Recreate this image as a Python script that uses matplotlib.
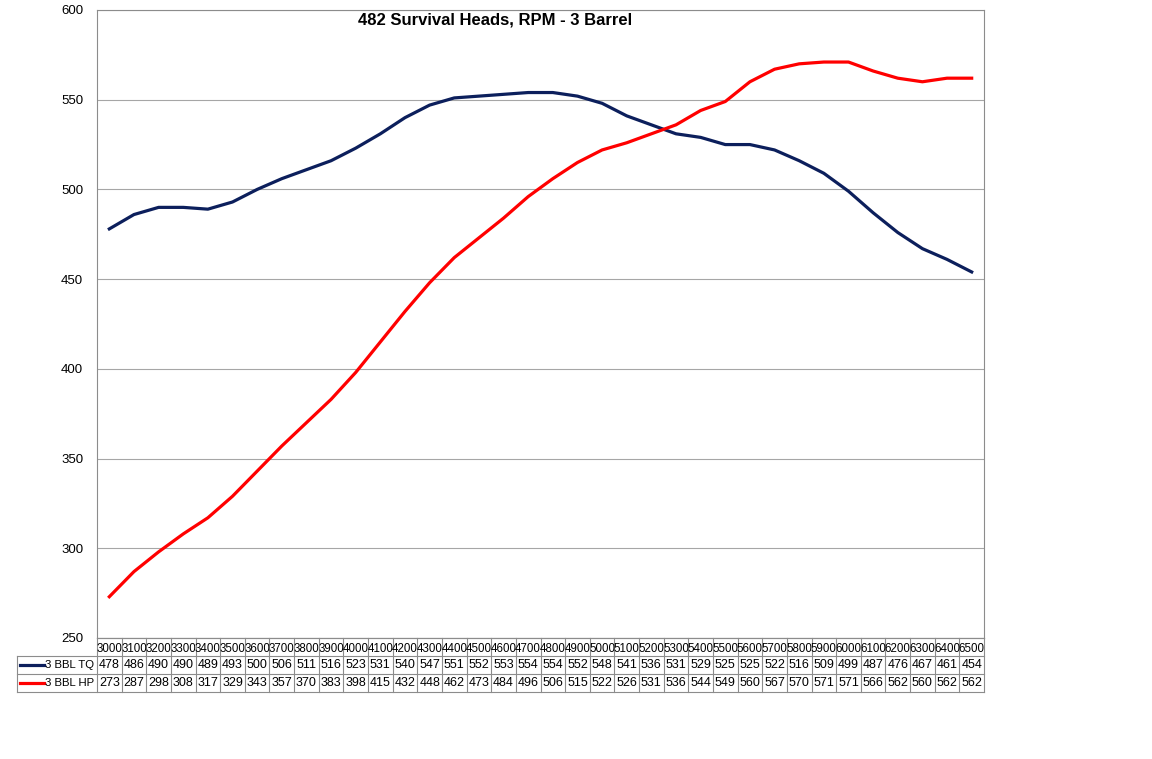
import numpy as np
import matplotlib.pyplot as plt
import matplotlib.transforms as mtransforms
from matplotlib.lines import Line2D

plt.rcParams['font.family'] = ['Liberation Sans', 'DejaVu Sans']

rpm = [3000, 3100, 3200, 3300, 3400, 3500, 3600, 3700, 3800, 3900,
       4000, 4100, 4200, 4300, 4400, 4500, 4600, 4700, 4800, 4900,
       5000, 5100, 5200, 5300, 5400, 5500, 5600, 5700, 5800, 5900,
       6000, 6100, 6200, 6300, 6400, 6500]
tq = [478, 486, 490, 490, 489, 493, 500, 506, 511, 516,
      523, 531, 540, 547, 551, 552, 553, 554, 554, 552,
      548, 541, 536, 531, 529, 525, 525, 522, 516, 509,
      499, 487, 476, 467, 461, 454]
hp = [273, 287, 298, 308, 317, 329, 343, 357, 370, 383,
      398, 415, 432, 448, 462, 473, 484, 496, 506, 515,
      522, 526, 531, 536, 544, 549, 560, 567, 570, 571,
      571, 566, 562, 560, 562, 562]
series_names = ['3 BBL TQ', '3 BBL HP']
series_colors = ['#0c1f5c', '#ff0000']

W, H = 1152, 759
fig = plt.figure(figsize=(W / 100, H / 100), dpi=100)
ax = fig.add_axes([97 / W, 1 - 638 / H, (984 - 97) / W, (638 - 10) / H])

n = len(rpm)
x = np.arange(n) + 0.5
for vals, col in zip([tq, hp], series_colors):
    ax.plot(x, vals, color=col, lw=2.3, solid_joinstyle='round')

ax.set_xlim(0, n)
ax.set_ylim(250, 600)
ax.set_yticks(np.arange(250, 601, 50))
ax.set_xticks([])
ax.tick_params(axis='y', length=0, pad=10, labelsize=9.5)
ax.grid(axis='y', color='#a6a6a6', lw=0.8)
ax.set_axisbelow(True)
for s in ax.spines.values():
    s.set_color('#8c8c8c')
    s.set_linewidth(0.8)

fig.text(495 / W, 1 - 20 / H, '482 Survival Heads, RPM - 3 Barrel',
         ha='center', va='center', fontsize=12, fontweight='bold')

# data table below the plot
grid_col = '#8c8c8c'
rows_px = [638, 656, 674, 692]
ytop = 1 - np.array(rows_px) / H
trans = mtransforms.blended_transform_factory(ax.transData, fig.transFigure)

ax.add_line(Line2D([0, n], [ytop[0], ytop[0]], transform=trans, color=grid_col, lw=0.8, clip_on=False))
for yy in ytop[1:]:
    fig.add_artist(Line2D([17 / W, 984 / W], [yy, yy], color=grid_col, lw=0.8))
for k in range(n + 1):
    ax.add_line(Line2D([k, k], [ytop[0], ytop[3]], transform=trans, color=grid_col, lw=0.8, clip_on=False))
fig.add_artist(Line2D([17 / W, 17 / W], [ytop[1], ytop[3]], color=grid_col, lw=0.8))

fs = 8.3
for i in range(n):
    ax.text(x[i], (ytop[0] + ytop[1]) / 2 - 0.002, str(rpm[i]), transform=trans,
            ha='center', va='center', fontsize=fs, clip_on=False)
    for r, vals in enumerate([tq, hp]):
        ax.text(x[i], (ytop[r + 1] + ytop[r + 2]) / 2, str(vals[i]), transform=trans,
                ha='center', va='center', fontsize=9, clip_on=False)

for r, (name, col) in enumerate(zip(series_names, series_colors)):
    yc = (ytop[r + 1] + ytop[r + 2]) / 2
    fig.add_artist(Line2D([20 / W, 44 / W], [yc, yc], color=col, lw=2.3))
    fig.text(94 / W, yc, name, ha='right', va='center', fontsize=8.2)

fig.savefig('out.png', dpi=100)
